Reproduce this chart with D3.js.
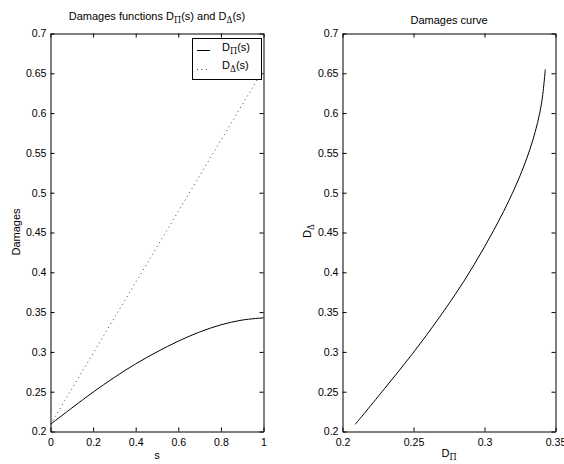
<!DOCTYPE html>
<html>
<head>
<meta charset="utf-8">
<script src="https://cdn.jsdelivr.net/npm/d3@7"></script>
<style>
  body { margin: 0; background: #fff; }
  svg { display: block; font-family: "Liberation Sans", Arial, sans-serif; }
  .tick text { font-size: 10.6px; fill: #000; }
  .tick line, .domain { stroke: #000; stroke-width: 1; }
</style>
</head>
<body>
<div id="chart"></div>
<script>
// s values and the two damages functions
const sValues = [0, 0.1, 0.2, 0.3, 0.4, 0.5, 0.6, 0.7, 0.8, 0.9, 1.0]
const dPi = [0.209, 0.2295, 0.2495, 0.268, 0.285, 0.300, 0.3135, 0.325, 0.334, 0.340, 0.3428]
const dDelta = [0.209, 0.2536, 0.2982, 0.3428, 0.3874, 0.432, 0.4766, 0.5212, 0.5658, 0.6104, 0.655]

const yTicks = [0.2, 0.25, 0.3, 0.35, 0.4, 0.45, 0.5, 0.55, 0.6, 0.65, 0.7]
const yTickLabels = ['0.2', '0.25', '0.3', '0.35', '0.4', '0.45', '0.5', '0.55', '0.6', '0.65', '0.7']
const sTicks = [0, 0.2, 0.4, 0.6, 0.8, 1]
const sTickLabels = ['0', '0.2', '0.4', '0.6', '0.8', '1']
const piTicks = [0.2, 0.25, 0.3, 0.35]
const piTickLabels = ['0.2', '0.25', '0.3', '0.35']

const w = 564
const h = 464
const plotTop = 33.5
const plotBottom = 431.5

const svg = d3.select('#chart')
    .append('svg')
    .attr('width', w)
    .attr('height', h)

const yScale = d3.scaleLinear().domain([0.2, 0.7]).range([plotBottom, plotTop])

let drawAxes = (xScale, xTicks, xLabels) => {
    const g = svg.append('g')
    const x0 = xScale.range()[0]
    const x1 = xScale.range()[1]
    const labelFor = (ticks, labels) => (d) => labels[ticks.indexOf(d)]

    g.append('g')
        .attr('transform', 'translate(0,' + plotBottom + ')')
        .call(d3.axisBottom(xScale).tickValues(xTicks).tickFormat(labelFor(xTicks, xLabels))
            .tickSizeInner(-4).tickSizeOuter(0).tickPadding(6.5))
    g.append('g')
        .attr('transform', 'translate(0,' + plotTop + ')')
        .call(d3.axisTop(xScale).tickValues(xTicks).tickFormat('')
            .tickSizeInner(-4).tickSizeOuter(0))
    g.append('g')
        .attr('transform', 'translate(' + x0 + ',0)')
        .call(d3.axisLeft(yScale).tickValues(yTicks).tickFormat(labelFor(yTicks, yTickLabels))
            .tickSizeInner(-4).tickSizeOuter(0).tickPadding(4))
    g.append('g')
        .attr('transform', 'translate(' + x1 + ',0)')
        .call(d3.axisRight(yScale).tickValues(yTicks).tickFormat('')
            .tickSizeInner(-4).tickSizeOuter(0))
    g.selectAll('.domain').attr('stroke', '#000')
    return g
}

// text with a subscript part: parts = [[text, isSub], ...]
let subText = (sel, parts, size) => {
    parts.forEach((p, i) => {
        const prevSub = i > 0 && parts[i - 1][1]
        let dy = 0
        if (p[1] && !prevSub) dy = size * 0.3
        if (!p[1] && prevSub) dy = -size * 0.3
        const t = sel.append('tspan')
            .attr('dy', dy)
            .attr('font-size', p[1] ? size * 0.75 : size)
            .text(p[0])
        if (p[1]) t.attr('font-family', '"DejaVu Serif", "Liberation Serif", serif')
    })
    return sel
}

// ---- left plot
const sScale = d3.scaleLinear().domain([0, 1]).range([50.5, 263.5])
drawAxes(sScale, sTicks, sTickLabels)

const leftPi = d3.line()
    .x((d, i) => sScale(sValues[i]))
    .y((d) => yScale(d))
    .curve(d3.curveCatmullRom)
const leftDelta = d3.line()
    .x((d, i) => sScale(sValues[i]))
    .y((d) => yScale(d))

svg.append('path')
    .attr('d', leftPi(dPi))
    .attr('fill', 'none')
    .attr('stroke', '#000')
    .attr('stroke-width', 1)
svg.append('path')
    .attr('d', leftDelta(dDelta))
    .attr('fill', 'none')
    .attr('stroke', '#444')
    .attr('stroke-width', 1)
    .attr('stroke-dasharray', '1,3.5')

subText(svg.append('text').attr('x', 157).attr('y', 20).attr('text-anchor', 'middle'),
    [['Damages functions D', false], ['\u03A0', true], ['(s) and D', false], ['\u0394', true], ['(s)', false]], 11)

svg.append('text')
    .text('s')
    .attr('x', 157)
    .attr('y', 459)
    .attr('text-anchor', 'middle')
    .attr('font-size', 11)

svg.append('text')
    .text('Damages')
    .attr('transform', 'rotate(-90)')
    .attr('x', -232)
    .attr('y', 19.5)
    .attr('text-anchor', 'middle')
    .attr('font-size', 11)

// legend
const legend = svg.append('g')
legend.append('rect')
    .attr('x', 192.5)
    .attr('y', 38.5)
    .attr('width', 69)
    .attr('height', 41)
    .attr('fill', '#fff')
    .attr('stroke', '#000')
legend.append('line')
    .attr('x1', 197).attr('x2', 210)
    .attr('y1', 50.5).attr('y2', 50.5)
    .attr('stroke', '#000')
legend.append('line')
    .attr('x1', 197).attr('x2', 210)
    .attr('y1', 69.5).attr('y2', 69.5)
    .attr('stroke', '#444')
    .attr('stroke-dasharray', '1,3.5')
subText(legend.append('text').attr('x', 222).attr('y', 50.5),
    [['D', false], ['\u03A0', true], ['(s)', false]], 11)
subText(legend.append('text').attr('x', 222).attr('y', 68.5),
    [['D', false], ['\u0394', true], ['(s)', false]], 11)

// ---- right plot
const piScale = d3.scaleLinear().domain([0.2, 0.35]).range([342.5, 555.5])
drawAxes(piScale, piTicks, piTickLabels)

const rightCurve = d3.line()
    .x((d) => piScale(d))
    .y((d, i) => yScale(dDelta[i]))
    .curve(d3.curveCatmullRom)

svg.append('path')
    .attr('d', rightCurve(dPi))
    .attr('fill', 'none')
    .attr('stroke', '#000')
    .attr('stroke-width', 1)

svg.append('text')
    .text('Damages curve')
    .attr('x', 449)
    .attr('y', 24)
    .attr('text-anchor', 'middle')
    .attr('font-size', 11)

subText(svg.append('text').attr('x', 449).attr('y', 457).attr('text-anchor', 'middle'),
    [['D', false], ['\u03A0', true]], 11)

subText(svg.append('text').attr('transform', 'rotate(-90)').attr('x', -231).attr('y', 310.5)
    .attr('text-anchor', 'middle'),
    [['D', false], ['\u0394', true]], 11)
</script>
</body>
</html>
